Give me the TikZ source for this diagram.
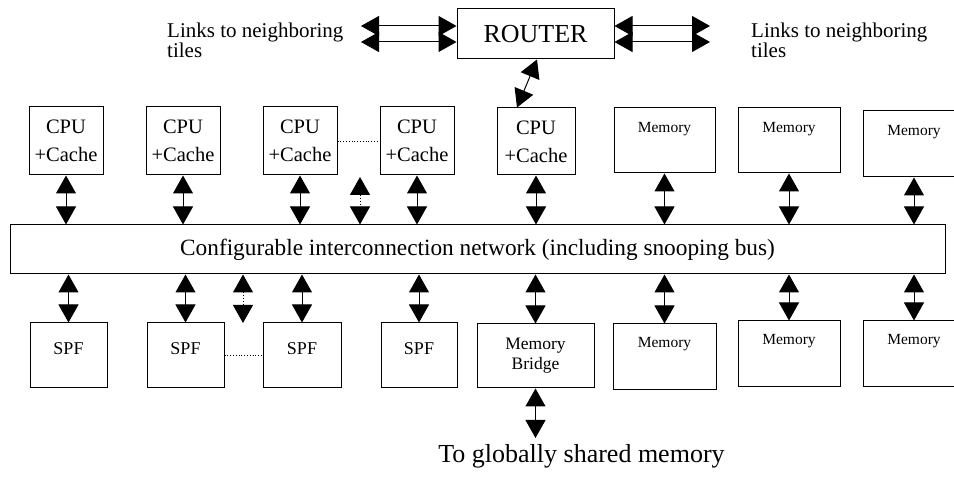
\documentclass[tikz,border=0pt]{standalone}
\usepackage{fontspec}
\setmainfont{Liberation Serif}
\usetikzlibrary{arrows.meta}
\begin{document}
\begin{tikzpicture}[x=1pt,y=-1pt,
  box/.style={draw, line width=1pt, inner sep=0pt, align=center},
  dbl/.style={line width=1pt, {Triangle[width=20pt,length=18pt]}-{Triangle[width=20pt,length=18pt]}},
  dotline/.style={line width=0.8pt, dotted},
  cpufont/.style={font=\fontsize{20.5}{28}\selectfont},
  memfont/.style={font=\fontsize{15.5}{18}\selectfont, inner sep=0pt, anchor=base},
  spffont/.style={font=\fontsize{18}{20}\selectfont, inner sep=0pt, anchor=base},
  linkfont/.style={font=\fontsize{21}{19.5}\selectfont, inner sep=0pt, align=left, anchor=north west}
]
\clip (0,0) rectangle (954,478);

% top
\node[linkfont] (linksL) at (167,23) {Links to neighboring\\tiles};
\node[linkfont] (linksR) at (751,23) {Links to neighboring\\tiles};
\node[box, minimum width=157pt, minimum height=50pt, font=\fontsize{26}{28}\selectfont] (router) at (535.5,34) {ROUTER};
\coordinate (lA) at (361,26); \coordinate (lB) at (361,42);
\coordinate (rA) at (710,26); \coordinate (rB) at (710,42);
\draw[dbl] (lA) -- (lA -| router.west);
\draw[dbl] (lB) -- (lB -| router.west);
\draw[dbl] (router.east |- rA) -- (rA);
\draw[dbl] (router.east |- rB) -- (rB);

% CPU row
\node[box, cpufont, minimum width=74pt, minimum height=68pt] (cpu1) at (66,141) {CPU\\+Cache};
\node[box, cpufont, minimum width=74pt, minimum height=68pt] (cpu2) at (183,141) {CPU\\+Cache};
\node[box, cpufont, minimum width=74pt, minimum height=68pt] (cpu3) at (300,141) {CPU\\+Cache};
\node[box, cpufont, minimum width=74pt, minimum height=68pt] (cpu4) at (417,141) {CPU\\+Cache};
\node[box, cpufont, minimum width=78pt, minimum height=67pt] (cpu5) at (536,141.5) {CPU\\+Cache};
\node[box, minimum width=101pt, minimum height=65pt] (mem1) at (664.5,140.5) {};
\node[box, minimum width=102pt, minimum height=65pt] (mem2) at (789,140.5) {};
\node[box, minimum width=102pt, minimum height=66pt] (mem3) at (914,144) {};
\node[memfont] (mem1t) at ([yshift=-25pt]mem1.north) {Memory};
\node[memfont] (mem2t) at ([yshift=-25pt]mem2.north) {Memory};
\node[memfont] (mem3t) at ([yshift=-25pt]mem3.north) {Memory};
\draw[dotline] (cpu3.east) -- (cpu4.west);

\draw[dbl] ([xshift=1.5pt]router.south) -- ([xshift=-19pt]cpu5.north);

% network
\node[box, minimum width=935pt, minimum height=49pt, font=\fontsize{23.3}{26}\selectfont] (net) at (477.5,249.5) {Configurable interconnection network (including snooping bus)};

\draw[dbl] (cpu1.south) -- (cpu1.south |- net.north);
\draw[dbl] (cpu2.south) -- (cpu2.south |- net.north);
\draw[dbl] (cpu3.south) -- (cpu3.south |- net.north);
\draw[dbl] (cpu4.south) -- (cpu4.south |- net.north);
\draw[dbl] (cpu5.south) -- (cpu5.south |- net.north);
\draw[dbl] (mem1.south) -- (mem1.south |- net.north);
\draw[dbl] (mem2.south) -- (mem2.south |- net.north);
\draw[dbl] (mem3.south) -- (mem3.south |- net.north);
\coordinate (dA) at (360,177);
\draw[dbl, dotted] (dA) -- (dA |- net.north);

% bottom row
\node[box, minimum width=77pt, minimum height=65pt] (spf1) at (68.5,355.5) {};
\node[box, minimum width=77pt, minimum height=65pt] (spf2) at (185.5,355.5) {};
\node[box, minimum width=78pt, minimum height=65pt] (spf3) at (302,355.5) {};
\node[box, minimum width=76pt, minimum height=65pt] (spf4) at (419,355.5) {};
\node[spffont] (spf1t) at ([yshift=-32pt]spf1.north) {SPF};
\node[spffont] (spf2t) at ([yshift=-32pt]spf2.north) {SPF};
\node[spffont] (spf3t) at ([yshift=-32pt]spf3.north) {SPF};
\node[spffont] (spf4t) at ([yshift=-32pt]spf4.north) {SPF};
\node[box, minimum width=117pt, minimum height=64pt, font=\fontsize{17.5}{20}\selectfont] (bridge) at (535.5,356) {Memory\\Bridge};
\node[box, minimum width=103pt, minimum height=66pt] (mem4) at (664.5,357) {};
\node[box, minimum width=102pt, minimum height=66pt] (mem5) at (789,354) {};
\node[box, minimum width=102pt, minimum height=66pt] (mem6) at (914,354) {};
\node[memfont] (mem4t) at ([yshift=-24pt]mem4.north) {Memory};
\node[memfont] (mem5t) at ([yshift=-24pt]mem5.north) {Memory};
\node[memfont] (mem6t) at ([yshift=-24pt]mem6.north) {Memory};
\draw[dotline] (spf2.east) -- (spf3.west);

\draw[dbl] (net.south -| spf1.north) -- (spf1.north);
\draw[dbl] (net.south -| spf2.north) -- (spf2.north);
\draw[dbl] (net.south -| spf3.north) -- (spf3.north);
\draw[dbl] (net.south -| spf4.north) -- (spf4.north);
\draw[dbl] (net.south -| bridge.north) -- (bridge.north);
\draw[dbl] (net.south -| mem4.north) -- (mem4.north);
\draw[dbl] (net.south -| mem5.north) -- (mem5.north);
\draw[dbl] (net.south -| mem6.north) -- (mem6.north);
\coordinate (dB) at (243,323);
\draw[dbl, dotted] (net.south -| dB) -- (dB);

% global memory
\coordinate (gm) at (536,438);
\draw[dbl] (bridge.south) -- (bridge.south |- gm);
\node[font=\fontsize{26}{28}\selectfont, inner sep=0pt, anchor=base] (gmt) at (581.5,462) {To globally shared memory};
\end{tikzpicture}
\end{document}
